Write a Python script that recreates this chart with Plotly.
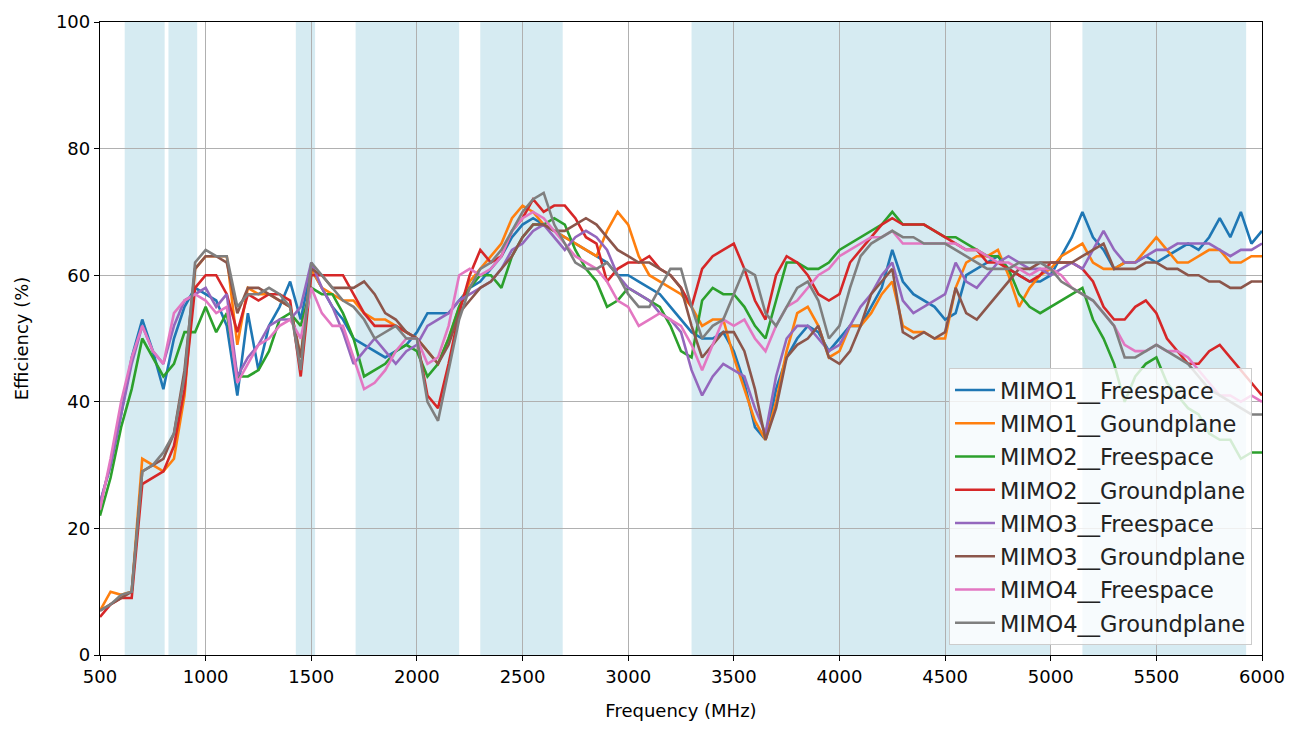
import plotly.graph_objects as go

freq = list(range(500, 6001, 50))

mimo1_free = [24, 30, 38, 47, 53, 48, 42, 50, 55, 58,
              57, 56, 52, 41, 54, 45, 52, 55, 59, 53,
              61, 58, 55, 53, 50, 49, 48, 47, 48, 49,
              51, 54, 54, 54, 56, 58, 59, 61, 63, 66,
              68, 69, 68, 67, 66, 65, 64, 63, 62, 60,
              60, 59, 58, 57, 55, 53, 51, 50, 50, 51,
              48, 43, 36, 34, 42, 47, 50, 52, 51, 48,
              50, 52, 52, 55, 58, 64, 59, 57, 56, 55,
              53, 54, 60, 61, 62, 63, 61, 60, 59, 59,
              60, 63, 66, 70, 66, 64, 61, 62, 62, 63,
              62, 63, 64, 65, 64, 66, 69, 66, 70, 65, 67]

mimo1_ground = [7, 10, 9.5, 10, 31, 30, 29, 31, 41, 61,
                63, 63, 63, 49, 58, 57, 57, 56, 55, 47,
                61, 58, 57, 56, 56, 54, 53, 53, 52, 51,
                50, 48, 46, 50, 55, 59, 61, 63, 65, 69,
                71, 70, 68, 67, 66, 65, 64, 63, 67, 70,
                68, 63, 60, 59, 58, 57, 55, 52, 53, 53,
                47, 42, 37, 34, 40, 48, 54, 55, 52, 47,
                48, 52, 52, 54, 57, 59, 52, 51, 51, 50,
                50, 58, 62, 63, 63, 64, 60, 55, 58, 60,
                61, 63, 64, 65, 62, 61, 61, 62, 62, 64,
                66, 64, 62, 62, 63, 64, 64, 62, 62, 63, 63]

mimo2_free = [22, 28, 36, 42, 50, 47, 44, 46, 51, 51,
              55, 51, 54, 44, 44, 45, 48, 53, 54, 52,
              58, 57, 57, 54, 50, 44, 45, 46, 48, 49,
              48, 44, 46, 50, 55, 58, 60, 60, 58, 63,
              66, 68, 68, 69, 68, 64, 61, 59, 55, 56,
              58, 57, 56, 55, 52, 48, 47, 56, 58, 57,
              57, 55, 52, 50, 56, 62, 62, 61, 61, 62,
              64, 65, 66, 67, 68, 70, 68, 68, 68, 67,
              66, 66, 65, 64, 63, 63, 61, 57, 55, 54,
              55, 56, 57, 58, 53, 50, 46, 40, 44, 46,
              47, 43, 41, 39, 38, 35, 34, 34, 31, 32, 32]

mimo2_ground = [6, 8, 9, 9, 27, 28, 29, 33, 42, 58,
                60, 60, 57, 51, 57, 56, 57, 57, 56, 44,
                60, 60, 60, 60, 57, 54, 52, 52, 52, 51,
                50, 41, 39, 46, 54, 60, 64, 62, 63, 67,
                69, 72, 70, 71, 71, 69, 66, 65, 59, 61,
                62, 62, 63, 61, 60, 58, 55, 61, 63, 64,
                65, 61, 56, 53, 60, 63, 62, 60, 57, 56,
                57, 62, 64, 66, 68, 69, 68, 68, 68, 67,
                66, 65, 64, 64, 62, 62, 61, 60, 59, 60,
                62, 62, 62, 61, 59, 55, 53, 53, 55, 56,
                54, 50, 48, 46, 46, 48, 49, 47, 45, 43, 41]

mimo3_free = [24, 30, 38, 46, 52, 48, 46, 52, 56, 57,
              58, 55, 57, 44, 47, 49, 52, 53, 53, 55,
              62, 58, 55, 51, 46, 48, 50, 48, 46, 48,
              49, 52, 53, 54, 56, 57, 58, 59, 61, 64,
              65, 67, 68, 66, 64, 66, 67, 66, 64, 60,
              58, 57, 56, 54, 53, 51, 45, 41, 44, 46,
              45, 44, 39, 35, 44, 50, 52, 52, 50, 48,
              49, 52, 55, 57, 60, 62, 56, 54, 55, 56,
              57, 62, 59, 58, 60, 62, 63, 62, 61, 61,
              60, 61, 62, 61, 64, 67, 64, 62, 62, 63,
              64, 64, 65, 65, 65, 65, 64, 63, 64, 64, 65]

mimo3_ground = [7, 8, 9, 10, 29, 30, 31, 35, 45, 61,
                63, 63, 62, 54, 58, 58, 57, 56, 55, 47,
                61, 60, 58, 58, 58, 59, 57, 54, 53, 51,
                50, 48, 46, 49, 54, 56, 58, 59, 61, 63,
                66, 68, 68, 67, 67, 68, 69, 68, 66, 64,
                63, 62, 62, 61, 60, 58, 52, 47, 49, 51,
                51, 48, 42, 34, 39, 47, 49, 50, 52, 47,
                46, 48, 52, 57, 59, 61, 51, 50, 51, 50,
                51, 58, 54, 53, 55, 57, 59, 61, 61, 62,
                62, 62, 62, 63, 64, 65, 61, 61, 61, 62,
                62, 61, 61, 60, 60, 59, 59, 58, 58, 59, 59]

mimo4_free = [23, 31, 40, 47, 52, 48, 46, 54, 56, 57,
              56, 54, 55, 43, 46, 49, 50, 52, 53, 50,
              58, 54, 52, 52, 47, 42, 43, 45, 48, 50,
              50, 46, 47, 52, 60, 61, 60, 61, 63, 67,
              69, 70, 69, 67, 65, 63, 62, 61, 59, 56,
              55, 52, 53, 54, 53, 52, 49, 45, 49, 53,
              52, 53, 50, 48, 52, 55, 56, 58, 60, 61,
              63, 64, 65, 66, 66, 67, 65, 65, 65, 65,
              65, 65, 64, 64, 63, 62, 62, 61, 60, 61,
              61, 60, 58, 57, 56, 54, 52, 49, 48, 48,
              49, 48, 48, 47, 45, 43, 41, 41, 40, 41, 40]

mimo4_ground = [7, 8, 9.5, 10, 29, 30, 32, 35, 44, 62,
                64, 63, 63, 55, 57, 57, 58, 57, 55, 45,
                62, 60, 58, 56, 55, 53, 50, 51, 52, 50,
                50, 40, 37, 45, 53, 58, 61, 62, 64, 67,
                70, 72, 73, 68, 65, 62, 61, 61, 62, 60,
                57, 55, 55, 58, 61, 61, 55, 50, 52, 53,
                57, 61, 60, 54, 52, 55, 58, 59, 56, 50,
                52, 58, 63, 65, 66, 67, 66, 66, 65, 65,
                65, 64, 63, 62, 61, 61, 61, 62, 62, 62,
                61, 59, 58, 57, 56, 54, 52, 47, 47, 48,
                49, 48, 47, 46, 44, 42, 41, 40, 39, 38, 38]

series_names = ["MIMO1__Freespace", "MIMO1__Goundplane", "MIMO2__Freespace",
                "MIMO2__Groundplane", "MIMO3__Freespace", "MIMO3__Groundplane",
                "MIMO4__Freespace", "MIMO4__Groundplane"]
series_values = [mimo1_free, mimo1_ground, mimo2_free, mimo2_ground,
                 mimo3_free, mimo3_ground, mimo4_free, mimo4_ground]
colors = ["#1f77b4", "#ff7f0e", "#2ca02c", "#d62728",
          "#9467bd", "#8c564b", "#e377c2", "#7f7f7f"]

band_starts = [617, 824, 1427, 1710, 2300, 3300, 5150]
band_ends = [806, 960, 1518, 2200, 2690, 5000, 5925]

x_ticks = list(range(500, 6001, 500))
y_ticks = [0, 20, 40, 60, 80, 100]

fig = go.Figure()
for name, vals, col in zip(series_names, series_values, colors):
    fig.add_trace(go.Scatter(x=freq, y=vals, mode="lines", name=name,
                             legendgroup=name,
                             line=dict(color=col, width=2.6)))

for s, e in zip(band_starts, band_ends):
    fig.add_shape(type="rect", xref="x", yref="paper", x0=s, x1=e, y0=0, y1=1,
                  fillcolor="rgba(173,216,230,0.5)", line_width=0, layer="below")

font_family = "DejaVu Sans"
fig.update_layout(
    width=1295, height=723,
    margin=dict(l=92, r=41, t=14, b=76, autoexpand=False),
    paper_bgcolor="white", plot_bgcolor="white",
    font=dict(family=font_family, size=18, color="black"),
    showlegend=True,
    legend=dict(x=0.9914, y=0.016, xanchor="right", yanchor="bottom",
                bgcolor="rgba(255,255,255,0.8)", bordercolor="#cccccc", borderwidth=1,
                font=dict(family=font_family, size=22.5, color="#222222"),
                itemwidth=40, tracegroupgap=1),
    xaxis=dict(range=[500, 6000], tickvals=x_ticks, showgrid=True,
               gridcolor="#b0b0b0", gridwidth=1.3, zeroline=False,
               showline=True, linecolor="black", linewidth=1.3, mirror=True,
               ticks="outside", ticklen=5, tickcolor="black", automargin=False,
               title=dict(text="Frequency (MHz)", standoff=18,
                          font=dict(size=18))),
    yaxis=dict(range=[0, 100], tickvals=y_ticks, showgrid=True,
               gridcolor="#b0b0b0", gridwidth=1.3, zeroline=False,
               showline=True, linecolor="black", linewidth=1.3, mirror=True,
               ticks="outside", ticklen=5, tickcolor="black", automargin=False,
               title=dict(text="Efficiency (%)", standoff=22,
                          font=dict(size=18))),
)

fig.write_html("out.html")
